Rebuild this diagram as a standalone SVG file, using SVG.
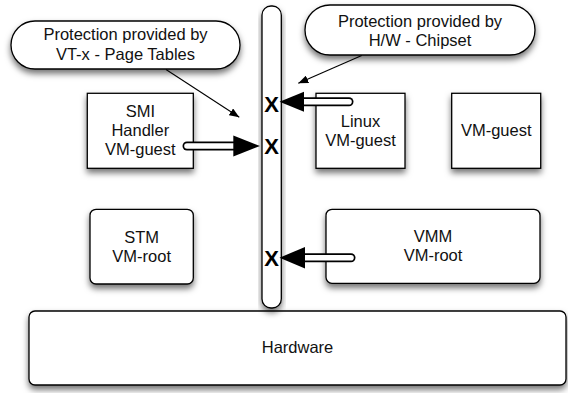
<svg xmlns="http://www.w3.org/2000/svg" width="568" height="393" viewBox="0 0 568 393">
  <defs>
    <filter id="shadow" x="-20%" y="-20%" width="140%" height="150%">
      <feDropShadow dx="0" dy="4" stdDeviation="3" flood-color="#000" flood-opacity="0.55"/>
    </filter>
    <marker id="thinHead" viewBox="0 0 10 8" refX="10" refY="4" markerWidth="10" markerHeight="8" markerUnits="userSpaceOnUse" orient="auto">
      <path d="M0,0 L10,4 L0,8 Z" fill="#000"/>
    </marker>
  </defs>
  <style>
    .box { fill: #fff; stroke: #000; stroke-width: 1.3; filter: url(#shadow); }
    .label { font-family: "Liberation Sans", Arial, Helvetica, sans-serif; font-size: 16.5px; fill: #111; text-anchor: middle; }
    .xmark { font-family: "Liberation Sans", Arial, Helvetica, sans-serif; font-size: 22px; font-weight: bold; fill: #000; text-anchor: middle; }
    .thin { fill: none; stroke: #000; stroke-width: 1.1; marker-end: url(#thinHead); }
    .pipeOuter { fill: none; stroke: #000; stroke-width: 9; stroke-linecap: round; }
    .pipeInner { fill: none; stroke: #fff; stroke-width: 5.6; stroke-linecap: round; }
    .head { fill: #000; }
  </style>

  <!-- Hardware base -->
  <g id="hardware">
    <rect class="box" x="29" y="311" width="537" height="74" rx="6"/>
    <text class="label" x="297.5" y="353">Hardware</text>
  </g>

  <!-- Protection barrier -->
  <g id="barrier">
    <rect class="box" x="262" y="6" width="19.3" height="302" rx="9"/>
  </g>

  <!-- Callouts -->
  <g id="callout-vtx">
    <rect class="box" x="11" y="21" width="229" height="48" rx="24"/>
    <text class="label" x="125.5" y="40">Protection provided by</text>
    <text class="label" x="125.5" y="59.5">VT-x - Page Tables</text>
  </g>
  <g id="callout-chipset">
    <rect class="box" x="305" y="5" width="230" height="50" rx="25"/>
    <text class="label" x="420" y="27">Protection provided by</text>
    <text class="label" x="420" y="46">H/W - Chipset</text>
  </g>

  <!-- Guests and roots -->
  <g id="smi-handler">
    <rect class="box" x="87.3" y="93.3" width="106" height="75"/>
    <text class="label" x="140.3" y="117">SMI</text>
    <text class="label" x="140.3" y="136">Handler</text>
    <text class="label" x="140.3" y="155">VM-guest</text>
  </g>
  <g id="linux-guest">
    <rect class="box" x="316" y="93.3" width="89" height="75"/>
    <text class="label" x="360.5" y="126.5">Linux</text>
    <text class="label" x="360.5" y="145.5">VM-guest</text>
  </g>
  <g id="vm-guest">
    <rect class="box" x="451.7" y="93.3" width="89" height="75"/>
    <text class="label" x="496.2" y="136">VM-guest</text>
  </g>
  <g id="stm">
    <rect class="box" x="90" y="209.3" width="103.3" height="74.7" rx="6"/>
    <text class="label" x="141.7" y="242.5">STM</text>
    <text class="label" x="141.7" y="261.5">VM-root</text>
  </g>
  <g id="vmm">
    <rect class="box" x="326" y="209.3" width="214" height="74" rx="6"/>
    <text class="label" x="433" y="242">VMM</text>
    <text class="label" x="433" y="261">VM-root</text>
  </g>

  <!-- Connectors: callout pointers and blocked accesses -->
  <g id="connectors">
    <path class="thin" d="M166,69.5 L239.3,117.3"/>
    <path class="thin" d="M361.7,55.5 L298.3,83.3"/>

    <!-- SMI handler access -->
    <path class="pipeOuter" d="M187,146 L236,146"/>
    <path class="pipeInner" d="M187,146 L236,146"/>
    <path class="head" d="M233.3,135.5 L260,146 L233.3,156.5 Z"/>

    <!-- Linux guest access -->
    <path class="pipeOuter" d="M349,101.7 L302,101.7"/>
    <path class="pipeInner" d="M349,101.7 L302,101.7"/>
    <path class="head" d="M304,91.7 L279.5,101.7 L304,111.7 Z"/>

    <!-- VMM access -->
    <path class="pipeOuter" d="M351,257.7 L303,257.7"/>
    <path class="pipeInner" d="M351,257.7 L303,257.7"/>
    <path class="head" d="M305,247 L279.5,257.7 L305,268.4 Z"/>

    <!-- Blocked marks -->
    <text class="xmark" x="271.6" y="112">X</text>
    <text class="xmark" x="271.6" y="154">X</text>
    <text class="xmark" x="271.6" y="265.5">X</text>
  </g>
</svg>
